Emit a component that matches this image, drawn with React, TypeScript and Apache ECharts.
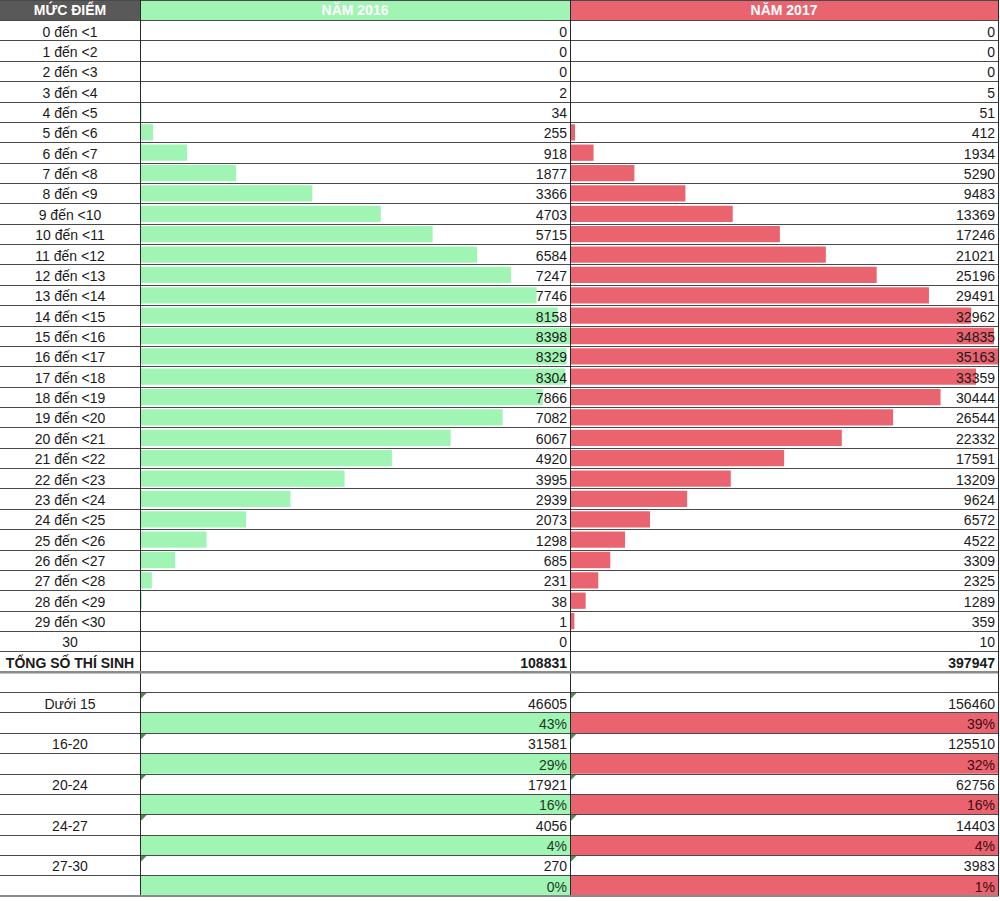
import React, { useEffect, useRef } from 'react';
import * as echarts from 'echarts';

const scoreLabels = [
  '0 đến <1', '1 đến <2', '2 đến <3', '3 đến <4', '4 đến <5', '5 đến <6', '6 đến <7', '7 đến <8',
  '8 đến <9', '9 đến <10', '10 đến <11', '11 đến <12', '12 đến <13', '13 đến <14', '14 đến <15',
  '15 đến <16', '16 đến <17', '17 đến <18', '18 đến <19', '19 đến <20', '20 đến <21', '21 đến <22',
  '22 đến <23', '23 đến <24', '24 đến <25', '25 đến <26', '26 đến <27', '27 đến <28', '28 đến <29',
  '29 đến <30', '30',
];
const counts2016 = [0, 0, 0, 2, 34, 255, 918, 1877, 3366, 4703, 5715, 6584, 7247, 7746, 8158, 8398, 8329, 8304, 7866, 7082, 6067, 4920, 3995, 2939, 2073, 1298, 685, 231, 38, 1, 0];
const counts2017 = [0, 0, 0, 5, 51, 412, 1934, 5290, 9483, 13369, 17246, 21021, 25196, 29491, 32962, 34835, 35163, 33359, 30444, 26544, 22332, 17591, 13209, 9624, 6572, 4522, 3309, 2325, 1289, 359, 10];
const headers = ['MỨC ĐIỂM', 'NĂM 2016', 'NĂM 2017'];
const totalLabel = 'TỔNG SỐ THÍ SINH';
const totals = [108831, 397947];
const groupLabels = ['Dưới 15', '16-20', '20-24', '24-27', '27-30'];
const groups2016 = [46605, 31581, 17921, 4056, 270];
const groups2017 = [156460, 125510, 62756, 14403, 3983];
const pct2016 = [43, 29, 16, 4, 0];
const pct2017 = [39, 32, 16, 4, 1];

type Kind = 'header' | 'score' | 'total' | 'blank' | 'group' | 'pct';
interface Row { kind: Kind; label: string; a: string; b: string; va: number | null; vb: number | null; }

const rows: Row[] = [];
rows.push({ kind: 'header', label: headers[0], a: headers[1], b: headers[2], va: null, vb: null });
scoreLabels.forEach((l, i) => rows.push({ kind: 'score', label: l, a: String(counts2016[i]), b: String(counts2017[i]), va: counts2016[i], vb: counts2017[i] }));
rows.push({ kind: 'total', label: totalLabel, a: String(totals[0]), b: String(totals[1]), va: null, vb: null });
rows.push({ kind: 'blank', label: '', a: '', b: '', va: null, vb: null });
groupLabels.forEach((g, i) => {
  rows.push({ kind: 'group', label: g, a: String(groups2016[i]), b: String(groups2017[i]), va: null, vb: null });
  rows.push({ kind: 'pct', label: '', a: pct2016[i] + '%', b: pct2017[i] + '%', va: null, vb: null });
});

const FONT = '"Liberation Sans", Arial, sans-serif';
const FS = 14;
const GREEN = '#a0f4b4';
const RED = '#ea6470';
const DARK = '#595959';
const TXT = '#1a1a1a';
const TABLE_H = 896;
const ROW_H = TABLE_H / rows.length;
const CL = 140, CG = 430, CR = 428;
const TRANSPARENT = 'rgba(0,0,0,0)';

export default function App() {
  const ref = useRef<HTMLDivElement>(null);
  useEffect(() => {
    document.body.style.margin = '0';
    if (!ref.current) return;
    const chart = echarts.init(ref.current, undefined, { renderer: 'svg' });
    const maxG = Math.max(...counts2016);
    const maxR = Math.max(...counts2017);
    const cats = rows.map((_, i) => String(i));

    const grid = [
      { left: 0, top: 0, width: CL, height: TABLE_H },
      { left: CL, top: 0, width: CG, height: TABLE_H },
      { left: CL, top: 0, width: CG, height: TABLE_H },
      { left: CL + CG, top: 0, width: CR, height: TABLE_H },
      { left: CL + CG, top: 0, width: CR, height: TABLE_H },
    ];
    const maxes = [1, maxG, maxG, maxR, maxR];
    const xAxis = maxes.map((m, i) => ({ gridIndex: i, type: 'value', min: 0, max: m, show: false }));
    const yAxis = [0, 1, 2, 3, 4].map((i) => {
      const visible = i === 0 || i === 1 || i === 3;
      return {
        gridIndex: i, type: 'category', data: cats, inverse: true, show: visible, position: 'right', z: 10,
        axisLine: { show: visible, onZero: false, lineStyle: { color: '#2a2a2a', width: 1 } },
        axisTick: { show: false }, axisLabel: { show: false },
        splitLine: { show: visible, lineStyle: { color: '#4a4a4a', width: 1 } },
      };
    });

    const fillSeries = (xi: number, key: 'a' | 'b', color: string, pctColor: string, max: number) => ({
      type: 'bar', xAxisIndex: xi, yAxisIndex: xi, barCategoryGap: 0, z: 3, silent: true,
      data: rows.map((r) => {
        const isHeader = r.kind === 'header';
        const filled = isHeader || r.kind === 'pct';
        return {
          value: max,
          itemStyle: { color: filled ? color : TRANSPARENT },
          label: {
            show: r[key] !== '', position: isHeader ? 'inside' : 'insideRight', distance: 3,
            offset: [0, isHeader ? 0 : 1],
            formatter: () => r[key], fontFamily: FONT, fontSize: FS,
            color: isHeader ? '#ffffff' : r.kind === 'pct' ? pctColor : TXT,
            fontWeight: isHeader || r.kind === 'total' ? 'bold' : 'normal',
          },
        };
      }),
    });
    const barSeries = (xi: number, key: 'va' | 'vb', color: string) => ({
      type: 'bar', xAxisIndex: xi, yAxisIndex: xi, barCategoryGap: '20%', z: 2, silent: true,
      itemStyle: { color }, data: rows.map((r) => r[key]),
    });
    const triSeries = (xi: number) => ({
      type: 'scatter', xAxisIndex: xi, yAxisIndex: xi, z: 5, silent: true,
      symbol: 'path://M0,0L10,0L0,10Z', symbolSize: 7, symbolOffset: [3.5, -6.5],
      itemStyle: { color: '#1f6e25' },
      data: rows.map((r, i) => (r.kind === 'group' ? [0, i] : null)).filter((d) => d !== null),
    });

    const labelSeries = {
      type: 'bar', xAxisIndex: 0, yAxisIndex: 0, barCategoryGap: 0, z: 3, silent: true,
      data: rows.map((r) => ({
        value: 1,
        itemStyle: { color: r.kind === 'header' ? DARK : TRANSPARENT },
        label: {
          show: r.label !== '', position: 'inside', formatter: () => r.label, fontFamily: FONT, fontSize: FS,
          offset: [0, r.kind === 'header' ? 0 : 1],
          color: r.kind === 'header' ? '#ffffff' : TXT,
          fontWeight: r.kind === 'header' || r.kind === 'total' ? 'bold' : 'normal',
        },
      })),
    };

    const totalIdx = rows.findIndex((r) => r.kind === 'total');
    const sepY = (totalIdx + 1) * ROW_H;

    chart.setOption({
      animation: false,
      backgroundColor: '#ffffff',
      grid, xAxis, yAxis,
      series: [
        labelSeries,
        fillSeries(1, 'a', GREEN, '#1c3a22', maxG),
        barSeries(2, 'va', GREEN),
        triSeries(2),
        fillSeries(3, 'b', RED, '#3d0a10', maxR),
        barSeries(4, 'vb', RED),
        triSeries(4),
      ],
      graphic: [
        { type: 'rect', shape: { x: 0, y: sepY - 1, width: CL + CG + CR, height: 2.5 }, style: { fill: '#8a8a8a' }, z: 20, silent: true },
        { type: 'rect', shape: { x: 0, y: TABLE_H - 1, width: CL + CG + CR, height: 2 }, style: { fill: '#8a8a8a' }, z: 20, silent: true },
      ],
    });
    return () => chart.dispose();
  }, []);
  return <div ref={ref} style={{ width: 1000, height: 901, position: 'absolute', left: 0, top: 0 }} />;
}
